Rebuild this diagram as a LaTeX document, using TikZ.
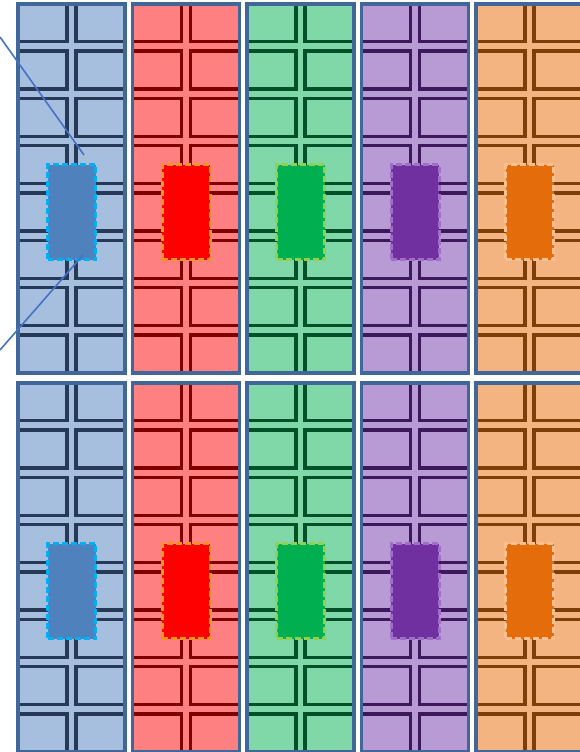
\documentclass[tikz,border=0pt]{standalone}
\usepackage{xcolor}
\usepackage{tikz}
\usetikzlibrary{positioning,calc}
\definecolor{paneledge}{RGB}{65,103,154}
\definecolor{zoomblue}{RGB}{68,114,196}
\definecolor{fillblue}{RGB}{167,191,222}
\definecolor{lineblue}{RGB}{38,58,88}
\definecolor{coreblue}{RGB}{79,129,189}
\definecolor{rimblue}{RGB}{0,176,240}
\definecolor{fillred}{RGB}{255,128,128}
\definecolor{linered}{RGB}{128,0,0}
\definecolor{corered}{RGB}{255,0,0}
\definecolor{rimred}{RGB}{240,150,30}
\definecolor{fillgreen}{RGB}{128,216,168}
\definecolor{linegreen}{RGB}{0,80,40}
\definecolor{coregreen}{RGB}{0,176,80}
\definecolor{rimgreen}{RGB}{146,208,80}
\definecolor{fillpurple}{RGB}{184,154,212}
\definecolor{linepurple}{RGB}{60,25,90}
\definecolor{corepurple}{RGB}{112,48,160}
\definecolor{rimpurple}{RGB}{160,110,200}
\definecolor{fillorange}{RGB}{244,180,130}
\definecolor{lineorange}{RGB}{125,62,10}
\definecolor{coreorange}{RGB}{228,108,10}
\definecolor{rimorange}{RGB}{250,192,144}
\tikzset{
  panel/.style    = {draw=paneledge, line width=3.4pt},
  block/.style    = {line width=3.2pt},
  hot/.style      = {draw, line width=3pt, dash pattern=on 6pt off 3pt, minimum width=48pt, minimum height=95pt, inner sep=0pt},
  zoomline/.style = {draw=zoomblue, line width=1.6pt},
}
\begin{document}
\begin{tikzpicture}[x=1pt,y=-1pt]
  \useasboundingbox (0,0) rectangle (580,752);
  % five strips, two rows
  \foreach \c [count=\k from 0] in {blue,red,green,purple,orange} {
    \foreach \r in {0,1} {
      \pgfmathsetmacro\px{18+114.5*\k}
      \pgfmathsetmacro\py{4+379*\r}
      \begin{scope}
        \clip (\px,\py) rectangle ++(107,369);
        \fill[fill\c] (\px,\py) rectangle ++(107,369);
        \foreach \i in {0,...,7} {
          \draw[block, draw=line\c] (\px-20,\py-0.3+47.33*\i) rectangle ++(69,38);
          \draw[block, draw=line\c] (\px+58,\py-0.3+47.33*\i) rectangle ++(69,38);
        }
      \end{scope}
      \draw[panel] (\px,\py) rectangle ++(107,369);
      \node[hot, draw=rim\c, fill=core\c] (hot\k\r) at (\px+53.5,\py+208) {};
    }
  }
  % zoom lines
  \coordinate (zoomtop) at (0,37);
  \coordinate (zoombot) at (0,350);
  \coordinate (tiptop) at ($(hot00.north)+(12.5,-8)$);
  \coordinate (tipbot) at ($(hot00.south)+(11.5,-6)$);
  \draw[zoomline] (zoomtop) -- (tiptop);
  \draw[zoomline] (zoombot) -- (tipbot);
\end{tikzpicture}
\end{document}
